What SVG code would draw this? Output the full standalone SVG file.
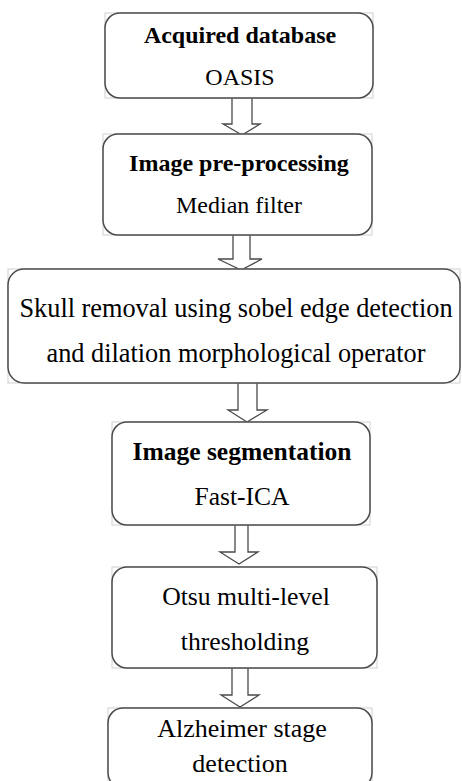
<svg xmlns="http://www.w3.org/2000/svg" width="462" height="781" viewBox="0 0 462 781">
  <style>
    .frame { fill: none; stroke: #cfcfcf; stroke-width: 1; }
    .box { fill: #ffffff; stroke: #4a4a4a; stroke-width: 1.5; }
    .arrow { fill: #ffffff; stroke: #4a4a4a; stroke-width: 1.3; stroke-linejoin: miter; }
    .t { font-family: 'Liberation Serif', Tinos, 'Times New Roman', 'DejaVu Serif', serif; fill: #000000; text-anchor: middle; }
    .b { font-weight: bold; }
  </style>
  <rect width="462" height="781" fill="#ffffff"/>

  <g id="connectors">
    <path class="arrow" d="M232,98 V124 H223 L242,135 L260,124 H252 V98"/>
    <path class="arrow" d="M233,235 V259 H218 L241,270 L262,259 H250 V235"/>
    <path class="arrow" d="M238,383 V410 H228 L247,422 L267,410 H257 V383"/>
    <path class="arrow" d="M235,525 V552 H220 L239,564 L258,552 H248 V525"/>
    <path class="arrow" d="M232,668 V695 H221 L240,707 L259,695 H248 V668"/>
  </g>

  <g id="acquired-database">
    <rect class="frame" x="105" y="13" width="268" height="85"/>
    <rect class="box" x="105" y="13" width="268" height="85" rx="15"/>
    <text class="t b" x="240" y="43" font-size="24">Acquired database</text>
    <text class="t" x="240" y="85" font-size="24">OASIS</text>
  </g>

  <g id="pre-processing">
    <rect class="frame" x="103" y="134" width="269" height="101"/>
    <rect class="box" x="103" y="134" width="269" height="101" rx="15"/>
    <text class="t b" x="239" y="171" font-size="24">Image pre-processing</text>
    <text class="t" x="239" y="213" font-size="24">Median filter</text>
  </g>

  <g id="skull-removal">
    <rect class="frame" x="8" y="269" width="452" height="114"/>
    <rect class="box" x="8" y="269" width="452" height="114" rx="16"/>
    <text class="t" x="236" y="317" font-size="26.3">Skull removal using sobel edge detection</text>
    <text class="t" x="236" y="362" font-size="26.3">and dilation morphological operator</text>
  </g>

  <g id="segmentation">
    <rect class="frame" x="112" y="422" width="258" height="103"/>
    <rect class="box" x="112" y="422" width="258" height="103" rx="15"/>
    <text class="t b" x="242" y="460" font-size="25.5">Image segmentation</text>
    <text class="t" x="242" y="505" font-size="25.5">Fast-ICA</text>
  </g>

  <g id="otsu-thresholding">
    <rect class="frame" x="112" y="567" width="265" height="101"/>
    <rect class="box" x="112" y="567" width="265" height="101" rx="15"/>
    <text class="t" x="246" y="605" font-size="25.7">Otsu multi-level</text>
    <text class="t" x="245" y="650" font-size="25.7">thresholding</text>
  </g>

  <g id="stage-detection">
    <rect class="frame" x="108" y="708" width="264" height="80"/>
    <rect class="box" x="108" y="708" width="264" height="80" rx="15"/>
    <text class="t" x="242" y="737" font-size="26">Alzheimer stage</text>
    <text class="t" x="240" y="772" font-size="26">detection</text>
  </g>
</svg>
